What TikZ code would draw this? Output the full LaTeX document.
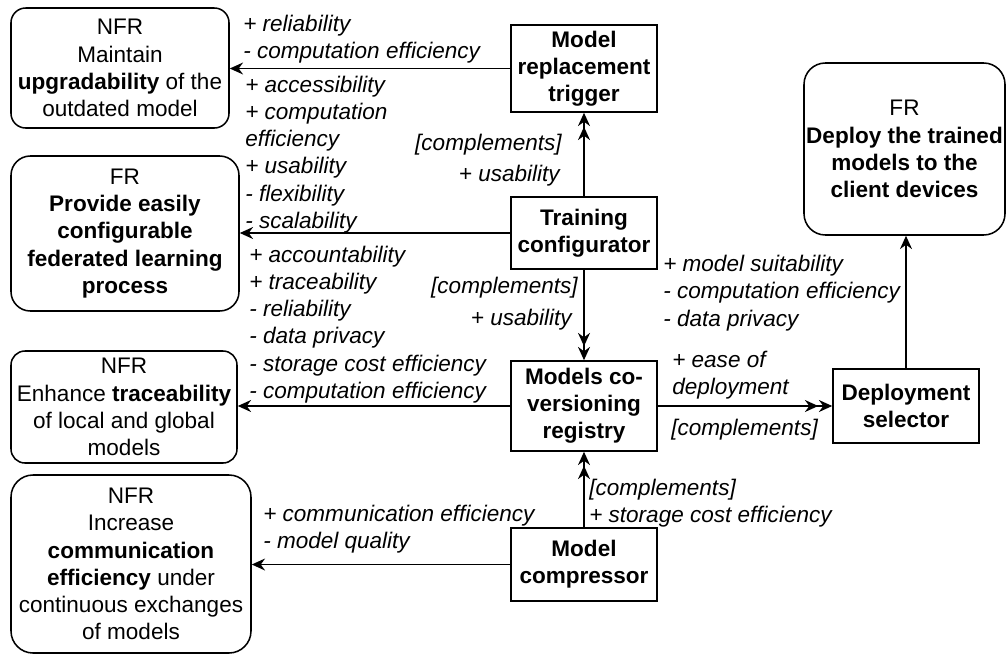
\documentclass[tikz,border=0pt]{standalone}
\usepackage{fontspec}
\setmainfont{Liberation Sans}
\usetikzlibrary{arrows.meta}
\newcommand\myfs{\fontsize{16.9}{20.4}\selectfont}
\tikzset{
  req/.style={draw, align=center, inner sep=0pt, line width=1.15pt, font=\myfs},
  comp/.style={draw, align=center, inner sep=0pt, line width=1.15pt, minimum width=109.5pt, font=\myfs\bfseries},
  lbl/.style={inner sep=0pt, align=left, font=\myfs\itshape},
  tipa/.tip={Stealth[length=10pt,width=9pt,inset=3.3pt]},
  conn/.style={line width=1.15pt, -{tipa}},
  dconn/.style={line width=1.15pt, -{tipa[sep=0.5pt]tipa}},
}
\begin{document}
\begin{tikzpicture}[x=0.75pt,y=-0.75pt]
\useasboundingbox (0,0) rectangle (1006,654);
% requirement boxes
\node[req, rounded corners=11pt, minimum width=163.5pt, minimum height=90pt] (nfrA) at (120,68)
  {NFR\\Maintain\\\textbf{upgradability} of the\\outdated model};
\node[req, rounded corners=14.5pt, minimum width=171pt, minimum height=116.25pt] (frA) at (125,233.5)
  {FR\\\textbf{Provide easily}\\\textbf{configurable}\\\textbf{federated learning}\\\textbf{process}};
\node[req, rounded corners=10.5pt, minimum width=169.5pt, minimum height=84pt] (nfrB) at (124,407)
  {NFR\\Enhance \textbf{traceability}\\of local and global\\models};
\node[req, rounded corners=16.5pt, minimum width=180pt, minimum height=133.5pt] (nfrC) at (131,564)
  {NFR\\Increase\\\textbf{communication}\\\textbf{efficiency} under\\continuous exchanges\\of models};
\node[req, rounded corners=16pt, minimum width=150.75pt, minimum height=129pt] (frB) at (904.5,149)
  {FR\\\textbf{Deploy the trained}\\\textbf{models to the}\\\textbf{client devices}};
% components
\node[comp, minimum height=65.25pt] (trig) at (584,68.5) {Model\\replacement\\trigger};
\node[comp, minimum height=54pt] (train) at (584,233) {Training\\configurator};
\node[comp, minimum height=67.5pt] (reg) at (584,406) {Models co-\\versioning\\registry};
\node[comp, minimum height=54.75pt] (cmp) at (584,564.5) {Model\\compressor};
\node[comp, minimum height=55.5pt] (dep) at (906,406) {Deployment\\selector};
% connectors
\draw[conn] (trig.west) -- (trig.west -| nfrA.east);
\draw[conn] (train.west) -- (train.west -| frA.east);
\draw[conn] (reg.west) -- (reg.west -| nfrB.east);
\draw[conn] (cmp.west) -- (cmp.west -| nfrC.east);
\draw[dconn] (train.north) -- (trig.south);
\draw[dconn] (train.south) -- (reg.north);
\draw[dconn] (reg.east) -- (dep.west);
\draw[dconn] (cmp.north) -- (reg.south);
\draw[conn] (dep.north) -- (dep.north |- frB.south);
% labels
\node[lbl, anchor=west] (l1) at (243,39) {+ reliability\\- computation efficiency};
\node[lbl, anchor=west] (l2) at (245,154.5) {+ accessibility\\+ computation\\efficiency\\+ usability\\- flexibility\\- scalability};
\node[lbl, anchor=west] (l3) at (249,324.5) {+ accountability\\+ traceability\\- reliability\\- data privacy\\- storage cost efficiency\\- computation efficiency};
\node[lbl, anchor=east] (l4a) at (562,145) {[complements]};
\node[lbl, anchor=east] (l4b) at (560,176) {+ usability};
\node[lbl, anchor=east] (l5a) at (578,288) {[complements]};
\node[lbl, anchor=east] (l5b) at (572,320) {+ usability};
\node[lbl, anchor=west] (l6) at (663,293) {+ model suitability\\- computation efficiency\\- data privacy};
\node[lbl, anchor=west] (l7) at (672,375.5) {+ ease of\\deployment};
\node[lbl, anchor=west] (l8) at (671,430) {[complements]};
\node[lbl, anchor=west] (l9) at (589,503) {[complements]\\+ storage cost efficiency};
\node[lbl, anchor=west] (l10) at (263,529.5) {+ communication efficiency\\- model quality};
\end{tikzpicture}
\end{document}
